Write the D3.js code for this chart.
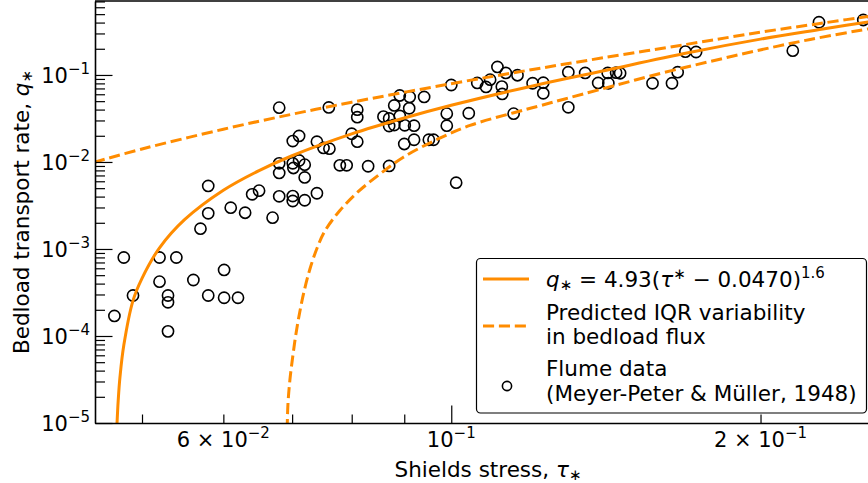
<!DOCTYPE html>
<html>
<head>
<meta charset="utf-8">
<script src="https://cdn.jsdelivr.net/npm/d3@7"></script>
<style>
  body { margin: 0; background: #fff; }
  svg { display: block; font-family: "DejaVu Sans", sans-serif; }
</style>
</head>
<body>
<div id="chart"></div>
<script>
// flume data (Shields stress, bedload rate)
var tauObs = [
  0.0470,0.0480,0.0490,0.0520,0.0540,0.0520,0.0530,0.0530,0.0530,0.0561,
  0.0580,0.0601,0.0601,0.0620,0.0570,0.0580,0.0580,0.0610,0.0630,0.0640,
  0.0650,0.0670,0.0680,0.0680,0.0680,0.0680,0.0701,0.0711,0.0701,0.0702,
  0.0711,0.0720,0.0720,0.0701,0.0701,0.0720,0.0740,0.0740,0.0751,0.0761,
  0.0760,0.0800,0.0810,0.0810,0.0810,0.0779,0.0791,0.0830,0.0870,0.0859,
  0.0870,0.0880,0.0891,0.0911,0.0941,0.0891,0.0870,0.0880,0.0901,0.0920,
  0.0910,0.0900,0.0920,0.0951,0.0961,0.0990,0.0990,0.1000,0.1011,0.1040,
  0.1060,0.1081,0.1091,0.1109,0.1130,0.1120,0.1121,0.1160,0.1150,0.1200,
  0.1229,0.1229,0.1300,0.1300,0.1350,0.1390,0.1420,0.1422,0.1447,0.1460,
  0.1570,0.1640,0.1661,0.1690,0.1731,0.2150,0.2280,0.2518];
var qObs = [
  1.70e-4,7.98e-4,2.92e-4,7.98e-4,7.98e-4,4.21e-4,2.92e-4,2.44e-4,1.13e-4,4.40e-4,
  2.92e-4,5.74e-4,2.75e-4,2.75e-4,1.71e-3,5.30e-3,2.57e-3,2.98e-3,2.61e-3,4.25e-3,
  4.68e-3,2.29e-3,4.03e-3,7.48e-3,9.66e-3,4.21e-2,1.74e-2,1.99e-2,9.66e-3,8.53e-3,
  1.04e-2,9.31e-3,6.64e-3,4.06e-3,3.56e-3,3.63e-3,4.37e-3,1.71e-2,1.45e-2,1.42e-2,
  4.23e-2,2.11e-2,1.71e-2,3.99e-2,3.27e-2,9.16e-3,9.16e-3,8.93e-3,9.00e-3,3.32e-2,
  3.16e-2,4.46e-2,5.81e-2,5.59e-2,5.59e-2,3.38e-2,2.59e-2,2.66e-2,2.64e-2,2.61e-2,
  4.14e-2,1.61e-2,1.80e-2,1.80e-2,1.80e-2,3.59e-2,2.61e-2,7.67e-2,5.78e-3,3.63e-2,
  8.09e-2,7.28e-2,8.83e-2,0.1236,0.1054,7.34e-2,6.05e-2,9.93e-2,3.59e-2,8.03e-2,
  8.15e-2,6.16e-2,0.1076,4.25e-2,0.1054,8.09e-2,0.1054,8.03e-2,0.1062,0.1047,
  8.03e-2,8.03e-2,0.1076,0.1854,0.1837,0.1900,0.4036,0.4285];

// fitted curve, points
var fitTau = [0.04725,0.0474,0.0476,0.0480,0.0490,0.0500,0.0520,0.0550,0.0600,0.0650,
  0.0700,0.0800,0.0900,0.1000,0.1200,0.1400,0.1700,0.2000,0.2300,0.2620];
var fitQ = [8.51e-6,1.80e-5,3.45e-5,7.81e-5,2.55e-4,4.60e-4,1.03e-3,2.17e-3,4.73e-3,7.97e-3,
  1.179e-2,2.10e-2,3.20e-2,4.48e-2,7.48e-2,0.1103,0.180,0.258,0.337,0.430];

// IQR bounds (dashed)
var upperTau = [0.0449,0.050,0.060,0.070,0.080,0.100,0.120,0.140,0.170,0.200,0.230,0.262];
var upperQ = [9.90e-3,1.41e-2,2.38e-2,3.54e-2,4.86e-2,7.94e-2,0.1155,0.1563,0.2261,0.310,0.395,0.495];
var lowerTau = [0.06922,0.06934,0.06965,0.07013,0.07060,0.07121,0.07188,0.07285,0.07400,0.07534,
  0.07791,0.08111,0.08524,0.08974,0.09685,0.1043,0.1148,0.1220,0.1290,0.1396,
  0.1597,0.1786,0.1998,0.2236,0.2545,0.2620];
var lowerQ = [8.31e-6,1.61e-5,3.12e-5,6.05e-5,1.054e-4,1.888e-4,3.21e-4,5.89e-4,1.014e-3,1.61e-3,
  2.77e-3,4.52e-3,7.28e-3,1.127e-2,1.815e-2,2.63e-2,3.66e-2,4.43e-2,5.30e-2,6.81e-2,
  0.1040,0.1429,0.1936,0.256,0.338,0.358];

// ticks
var yMajor = [1e-5, 1e-4, 1e-3, 1e-2, 1e-1];
var yMajorExp = ["\u22125", "\u22124", "\u22123", "\u22122", "\u22121"];
var xMajor = [0.1];
var xMinor = [0.05, 0.06, 0.07, 0.08, 0.09, 0.2];
var xLabelVals = [0.06, 0.1, 0.2];
var xLabelMant = ["6", "", "2"];
var xLabelExp = ["\u22122", "\u22121", "\u22121"];

var orange = "#ff8c00";
var W = 868, H = 483;
var margin = {top: 1, left: 95, right: 881, bottom: 423};
var fs = 21.5, fsTick = 21, fsSmall = 15;

var svg = d3.select("#chart").append("svg")
    .attr("width", W)
    .attr("height", H);
svg.append("rect").attr("width", W).attr("height", H).attr("fill", "#fff");

var x = d3.scaleLog().domain([0.045, 0.262]).range([margin.left, margin.right]);
var y = d3.scaleLog().domain([1e-5, 0.708]).range([margin.bottom, margin.top]);

svg.append("clipPath").attr("id", "plotclip")
  .append("rect")
    .attr("x", margin.left).attr("y", margin.top)
    .attr("width", margin.right - margin.left)
    .attr("height", margin.bottom - margin.top);

var plot = svg.append("g").attr("clip-path", "url(#plotclip)");

// flume points
var obs = d3.zip(tauObs, qObs);
plot.selectAll(".dot")
    .data(obs)
  .enter().append("circle")
    .attr("class", "dot")
    .attr("cx", function(d) { return x(d[0]); })
    .attr("cy", function(d) { return y(d[1]); })
    .attr("r", 5.6)
    .attr("fill", "none")
    .attr("stroke", "#000")
    .attr("stroke-width", 1.6);

var line = d3.line()
    .x(function(d) { return x(d[0]); })
    .y(function(d) { return y(d[1]); })
    .curve(d3.curveCatmullRom.alpha(0.5));

plot.append("path")
    .datum(d3.zip(upperTau, upperQ))
    .attr("fill", "none").attr("stroke", orange).attr("stroke-width", 3)
    .attr("stroke-dasharray", "11.1,4.8")
    .attr("d", line);
plot.append("path")
    .datum(d3.zip(lowerTau, lowerQ))
    .attr("fill", "none").attr("stroke", orange).attr("stroke-width", 3)
    .attr("stroke-dasharray", "11.1,4.8")
    .attr("d", line);
plot.append("path")
    .datum(d3.zip(fitTau, fitQ))
    .attr("fill", "none").attr("stroke", orange).attr("stroke-width", 3)
    .attr("d", line);

// axes, ticks pointing in
var yMinor = [];
yMajor.forEach(function(v) {
  for (var k = 2; k <= 9; k++) { if (v * k <= 0.708) yMinor.push(v * k); }
});

var yAxisMinor = svg.append("g")
    .attr("transform", "translate(" + margin.left + ",0)")
    .call(d3.axisLeft(y).tickValues(yMinor).tickSize(-10).tickFormat(""));
var yAxis = svg.append("g")
    .attr("transform", "translate(" + margin.left + ",0)")
    .call(d3.axisLeft(y).tickValues(yMajor).tickSizeInner(-17.5).tickSizeOuter(0).tickFormat(""));
var xAxisMinor = svg.append("g")
    .attr("transform", "translate(0," + margin.bottom + ")")
    .call(d3.axisBottom(x).tickValues(xMinor).tickSize(-8.5).tickFormat(""));
var xAxis = svg.append("g")
    .attr("transform", "translate(0," + margin.bottom + ")")
    .call(d3.axisBottom(x).tickValues(xMajor).tickSizeInner(-17.5).tickSizeOuter(0).tickFormat(""));

[yAxisMinor, xAxisMinor].forEach(function(a) { a.select(".domain").remove(); });
svg.selectAll(".tick line").attr("stroke", "#000").attr("stroke-width", 1.2);
svg.selectAll(".domain").attr("stroke", "#000").attr("stroke-width", 1.6);

// top spine
svg.append("line")
    .attr("x1", margin.left).attr("x2", margin.right)
    .attr("y1", margin.top).attr("y2", margin.top)
    .attr("stroke", "#000").attr("stroke-width", 1.6);

// tick labels with superscripts
function sciText(g, mant, exp) {
  g.append("tspan").text(mant ? mant + " \u00d7 10" : "10");
  g.append("tspan").attr("font-size", fsSmall).attr("dy", -9).text(exp);
}
yMajor.forEach(function(v, i) {
  var t = svg.append("text")
      .attr("x", 90).attr("y", y(v) + 8.3)
      .attr("text-anchor", "end")
      .attr("font-size", fsTick);
  sciText(t, "", yMajorExp[i]);
});
xLabelVals.forEach(function(v, i) {
  var t = svg.append("text")
      .attr("x", x(v)).attr("y", 447)
      .attr("text-anchor", "middle")
      .attr("font-size", fsTick);
  sciText(t, xLabelMant[i], xLabelExp[i]);
});

// axis titles
var xt = svg.append("text")
    .attr("x", (margin.left + margin.right) / 2).attr("y", 476.5)
    .attr("text-anchor", "middle").attr("font-size", fs);
xt.append("tspan").text("Shields stress, ");
xt.append("tspan").attr("font-style", "italic").text("\u03c4");
xt.append("tspan").attr("font-size", fsSmall).attr("dy", 3).text("\u2217");

var yt = svg.append("text")
    .attr("transform", "translate(28.5," + ((margin.top + margin.bottom) / 2) + ") rotate(-90)")
    .attr("text-anchor", "middle").attr("font-size", fs);
yt.append("tspan").text("Bedload transport rate, ");
yt.append("tspan").attr("font-style", "italic").text("q");
yt.append("tspan").attr("font-size", fsSmall).attr("dy", 3).text("\u2217");

// legend
var leg = svg.append("g");
leg.append("rect")
    .attr("x", 476.5).attr("y", 258.5)
    .attr("width", 390).attr("height", 154.5)
    .attr("rx", 4)
    .attr("fill", "#fff").attr("stroke", "#000").attr("stroke-width", 1.2);

leg.append("line")
    .attr("x1", 483).attr("x2", 529).attr("y1", 279).attr("y2", 279)
    .attr("stroke", orange).attr("stroke-width", 3);
leg.append("line")
    .attr("x1", 483).attr("x2", 529).attr("y1", 326).attr("y2", 326)
    .attr("stroke", orange).attr("stroke-width", 3)
    .attr("stroke-dasharray", "11.1,4.8");
leg.append("circle")
    .attr("cx", 507).attr("cy", 386).attr("r", 4.6)
    .attr("fill", "none").attr("stroke", "#000").attr("stroke-width", 1.6);

var eq = leg.append("text").attr("x", 546).attr("y", 286.5).attr("font-size", fs);
eq.append("tspan").attr("font-style", "italic").text("q");
eq.append("tspan").attr("font-size", fsSmall).attr("dy", 3).text("\u2217");
eq.append("tspan").attr("dy", -3).text(" = 4.93(");
eq.append("tspan").attr("font-style", "italic").text("\u03c4");
eq.append("tspan").attr("font-size", fsSmall).attr("dy", -8).text("\u2217");
eq.append("tspan").attr("dy", 8).text(" \u2212 0.0470)");
eq.append("tspan").attr("font-size", fsSmall).attr("dy", -9).text("1.6");

var legLines = [
  ["Predicted IQR variability", 319.5],
  ["in bedload flux", 344],
  ["Flume data", 376],
  ["(Meyer-Peter & M\u00fcller, 1948)", 400.5]
];
legLines.forEach(function(l) {
  leg.append("text")
      .attr("x", 546).attr("y", l[1])
      .attr("font-size", fs)
      .text(l[0]);
});
</script>
</body>
</html>
